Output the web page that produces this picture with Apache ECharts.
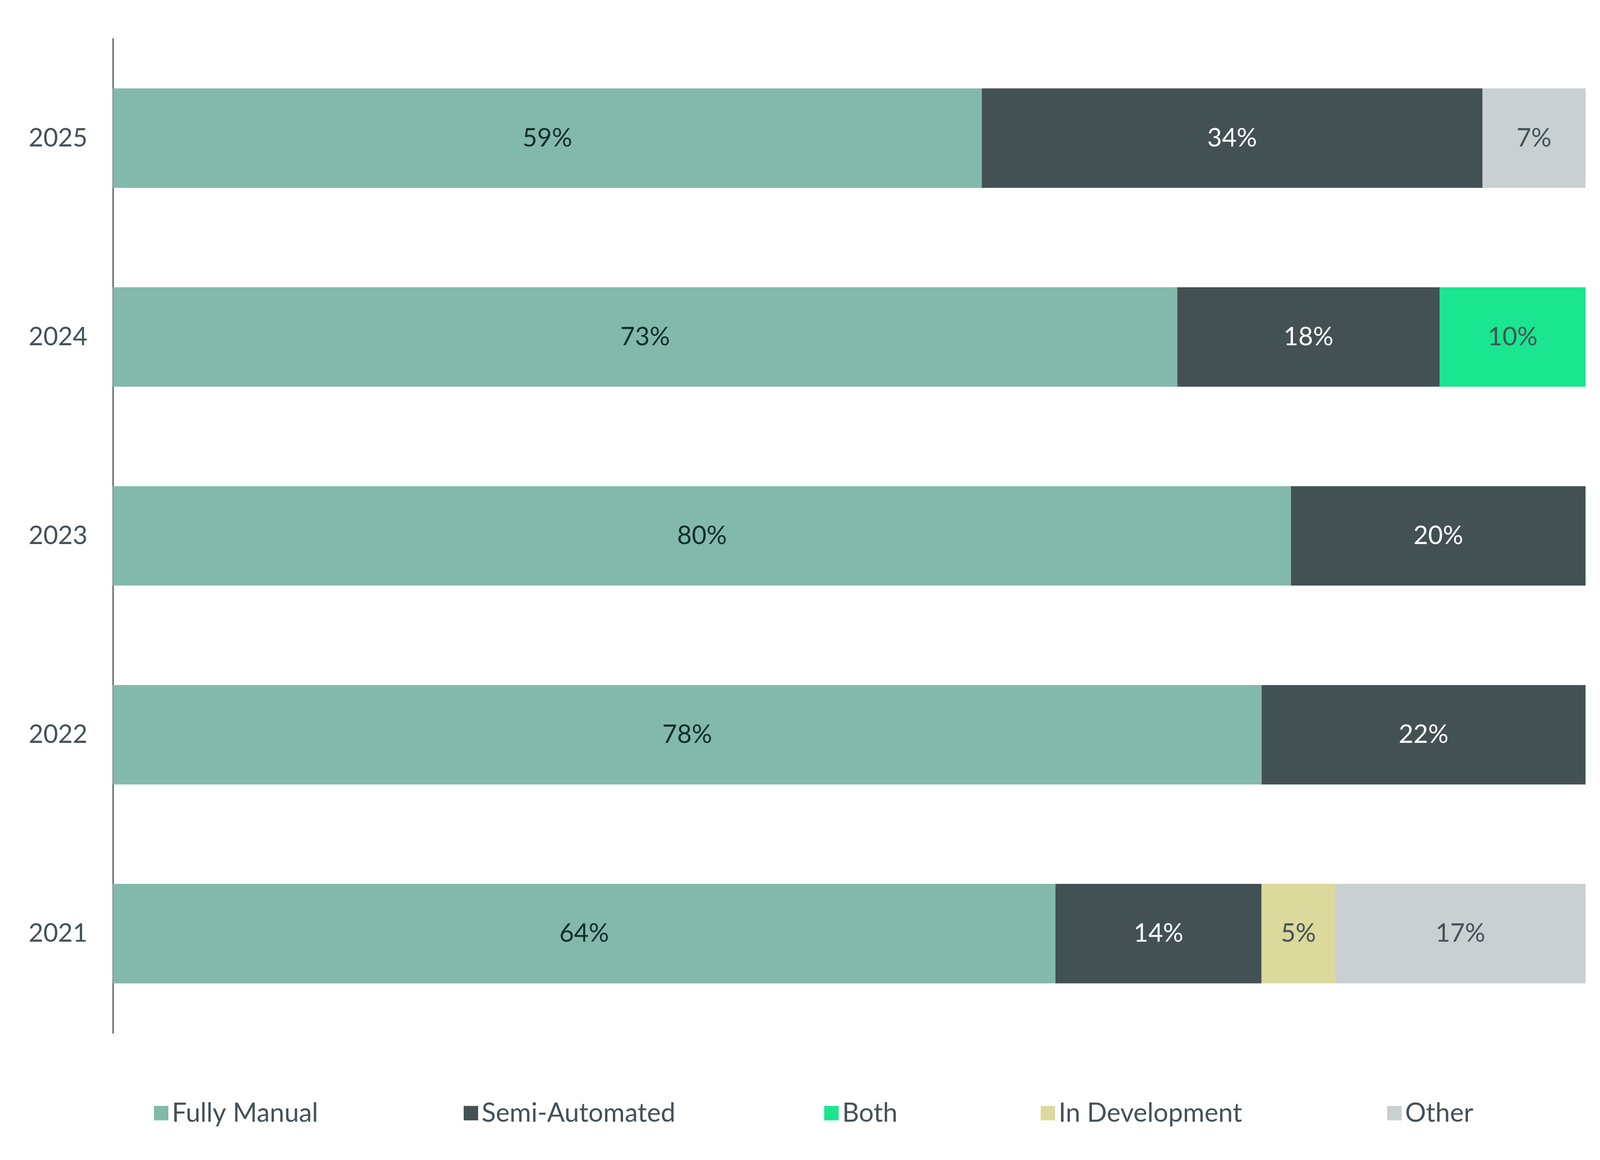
<!DOCTYPE html>
<html>
<head>
<meta charset="utf-8">
<title>Fully Manual vs Semi-Automated</title>
<script src="https://cdn.jsdelivr.net/npm/echarts@6/dist/echarts.min.js"></script>
<style>
    html, body { margin: 0; padding: 0; background: #ffffff; overflow: hidden; }
    #main { width: 100vw; height: 100vh; }
</style>
</head>
<body>
<div id="main"></div>
<script>
    // data (percent shown in each segment)
    var years = ['2025', '2024', '2023', '2022', '2021'];
    var seriesNames = ['Fully Manual', 'Semi-Automated', 'Both', 'In Development', 'Other'];
    var fullyManual   = [59, 73, 80, 78, 64];
    var semiAutomated = [34, 18, 20, 22, 14];
    var both          = [null, 10, null, null, null];
    var inDevelopment = [null, null, null, null, 5];
    var other         = [7, null, null, null, 17];

    var colors = ['#83b9ab', '#435155', '#19e68f', '#dbd99b', '#c9d0d2'];
    var labelColors = ['#0f2f2f', '#ffffff', '#44525a', '#44525a', '#44525a'];
    var legendLeft = [423, 1275, 2267, 2862, 3815];
    var font = 'Lato, "Noto Sans", sans-serif';

    var rows = [fullyManual, semiAutomated, both, inDevelopment, other];

    var dom = document.getElementById('main');
    // layout was measured on a 4400 x 2970 canvas, stretch to the real size
    var kx = dom.clientWidth / 4400;
    var ky = dom.clientHeight / 2970;
    var k = Math.min(kx, ky);
    function sx(v) { return Math.round(v * kx); }
    function sy(v) { return Math.round(v * ky); }
    function px(v) { return Math.round(v * k); }

    // each bar is drawn as share of its row total (2024 adds up to 101)
    var rowSum = years.map(function (y, i) {
        var s = 0;
        rows.forEach(function (r) { s += r[i] || 0; });
        return s;
    });

    var series = rows.map(function (r, n) {
        return {
            name: seriesNames[n],
            type: 'bar',
            stack: 'total',
            barCategoryGap: '50%',
            itemStyle: { color: colors[n] },
            label: {
                show: true,
                position: 'inside',
                color: labelColors[n],
                fontFamily: font,
                fontSize: px(70),
                formatter: function (p) {
                    return r[p.dataIndex] + '%';
                }
            },
            data: r.map(function (v, i) {
                return v == null ? null : v / rowSum[i] * 100;
            })
        };
    });

    var legends = seriesNames.map(function (name, n) {
        return {
            data: [name],
            left: sx(legendLeft[n]),
            top: sy(2850) - px(42),
            padding: 0,
            itemWidth: px(40),
            itemHeight: px(40),
            icon: 'rect',
            selectedMode: false,
            textStyle: {
                color: '#44525a',
                fontFamily: font,
                fontSize: px(72),
                lineHeight: px(84),
                padding: [0, 0, 0, px(4)]
            }
        };
    });

    var myChart = echarts.init(dom);
    var option = {
        backgroundColor: '#ffffff',
        animation: false,
        legend: legends,
        grid: {
            left: sx(310),
            right: sx(40),
            top: sy(99),
            bottom: sy(325),
            containLabel: false
        },
        xAxis: {
            type: 'value',
            min: 0,
            max: 100,
            show: false
        },
        yAxis: {
            type: 'category',
            inverse: true,
            data: years,
            axisLine: { show: true, lineStyle: { color: '#44525a', width: Math.max(1, px(3)) } },
            axisTick: { show: false },
            axisLabel: {
                color: '#44525a',
                fontFamily: font,
                fontSize: px(70),
                margin: sx(70)
            }
        },
        series: series
    };
    myChart.setOption(option, true);
</script>
</body>
</html>
